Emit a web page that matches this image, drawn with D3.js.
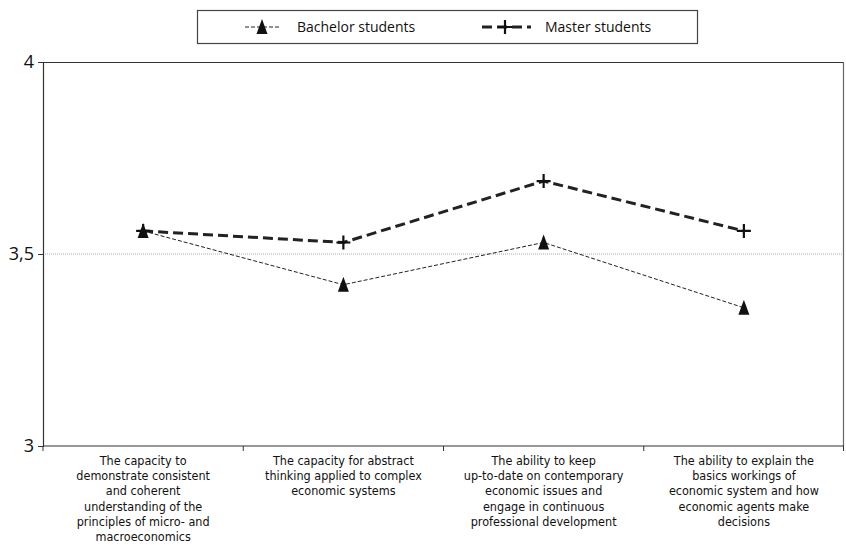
<!DOCTYPE html>
<html>
<head>
<meta charset="utf-8">
<script src="https://cdn.jsdelivr.net/npm/d3@7"></script>
<style>
  body { margin: 0; background: #fff; }
  svg { display: block; }
</style>
</head>
<body>
<svg id="chart"></svg>
<script>
// categories (x axis), each label already split into lines
var categories = [
  ["The capacity to", "demonstrate consistent", "and coherent", "understanding of the", "principles of micro- and", "macroeconomics"],
  ["The capacity for abstract", "thinking applied to complex", "economic systems"],
  ["The ability to keep", "up-to-date on contemporary", "economic issues and", "engage in continuous", "professional development"],
  ["The ability to explain the", "basics workings of", "economic system and how", "economic agents make", "decisions"]
];
var bachelorValues = [3.56, 3.42, 3.53, 3.36];
var masterValues = [3.56, 3.53, 3.69, 3.56];
var yTicks = [3, 3.5, 4];
var yTickLabels = ["3", "3,5", "4"];

var svgWidth = 846, svgHeight = 545;
var margin = { top: 62, right: 2, bottom: 99, left: 43 };
var width = svgWidth - margin.left - margin.right;
var height = svgHeight - margin.top - margin.bottom;
var font = "'DejaVu Sans Condensed', 'Open Sans', sans-serif";

var svg = d3.select("#chart")
  .attr("width", svgWidth)
  .attr("height", svgHeight);

var g = svg.append("g")
  .attr("transform", "translate(" + margin.left + "," + margin.top + ")");

var x = d3.scaleBand().domain(d3.range(categories.length)).range([0, width]);
var y = d3.scaleLinear().domain([3, 4]).range([height, 0]);

// dotted grid line at 3,5
g.append("line")
  .attr("x1", 0).attr("x2", width)
  .attr("y1", y(3.5)).attr("y2", y(3.5))
  .attr("stroke", "#aaa")
  .attr("stroke-width", 1)
  .attr("stroke-dasharray", "1,1");

// frame top and right
g.append("line").attr("x1", 0).attr("x2", width).attr("y1", 0.5).attr("y2", 0.5)
  .attr("stroke", "#333").attr("stroke-width", 1.2);
g.append("line").attr("x1", width - 0.5).attr("x2", width - 0.5).attr("y1", 0).attr("y2", height)
  .attr("stroke", "#666").attr("stroke-width", 1.2);

// Y axis
var yAxis = g.append("g")
  .call(d3.axisLeft(y).tickValues(yTicks).tickSize(5).tickFormat(function(d, i) { return yTickLabels[i]; }));
yAxis.select(".domain").attr("stroke", "#333").attr("stroke-width", 1.2);
yAxis.selectAll("line").attr("stroke", "#333");
yAxis.selectAll("text")
  .attr("fill", "#111")
  .style("font-family", "'Open Sans', sans-serif")
  .style("font-size", "18px")
  .attr("x", -9);

// X axis: ticks between categories
var xAxis = g.append("g").attr("transform", "translate(0," + height + ")");
xAxis.append("line").attr("x1", 0).attr("x2", width).attr("y1", 0).attr("y2", 0)
  .attr("stroke", "#333").attr("stroke-width", 1.2);
xAxis.selectAll(".xtick")
  .data(d3.range(categories.length + 1))
  .enter().append("line")
  .attr("x1", function(d) { return d === categories.length ? width - 0.5 : x(d); })
  .attr("x2", function(d) { return d === categories.length ? width - 0.5 : x(d); })
  .attr("y1", 0).attr("y2", 5)
  .attr("stroke", "#333");

var labels = xAxis.selectAll(".xlabel")
  .data(categories)
  .enter().append("text")
  .attr("text-anchor", "middle")
  .attr("fill", "#111")
  .style("font-family", font)
  .style("font-size", "12.5px")
  .attr("transform", function(d, i) { return "translate(" + (x(i) + x.bandwidth() / 2) + ",19)"; });
labels.selectAll("tspan")
  .data(function(d) { return d; })
  .enter().append("tspan")
  .attr("x", 0)
  .attr("y", function(d, i) { return i * 15.2; })
  .text(function(d) { return d; });

var line = d3.line()
  .x(function(d, i) { return x(i) + x.bandwidth() / 2; })
  .y(function(d) { return y(d); });

// Bachelor line
g.append("path")
  .datum(bachelorValues)
  .attr("fill", "none")
  .attr("stroke", "#222")
  .attr("stroke-width", 1)
  .attr("stroke-dasharray", "4,2")
  .attr("d", line);

// Master line
g.append("path")
  .datum(masterValues)
  .attr("fill", "none")
  .attr("stroke", "#222")
  .attr("stroke-width", 3)
  .attr("stroke-dasharray", "10,5")
  .attr("d", line);

var triangle = "M0,-8L5.5,7L-5.5,7Z";
var cross = "M-7,0H7M0,-7V7";

g.selectAll(".tri")
  .data(bachelorValues)
  .enter().append("path")
  .attr("d", triangle)
  .attr("fill", "#111")
  .attr("transform", function(d, i) { return "translate(" + (x(i) + x.bandwidth() / 2) + "," + y(d) + ")"; });

g.selectAll(".crs")
  .data(masterValues)
  .enter().append("path")
  .attr("d", cross)
  .attr("stroke", "#111")
  .attr("stroke-width", 2.2)
  .attr("fill", "none")
  .attr("transform", function(d, i) { return "translate(" + (x(i) + x.bandwidth() / 2) + "," + y(d) + ")"; });

// Legend
var legend = svg.append("g");
legend.append("rect")
  .attr("x", 197.5).attr("y", 10.5).attr("width", 500).attr("height", 33)
  .attr("fill", "#fff").attr("stroke", "#444").attr("stroke-width", 1.2);

legend.append("line")
  .attr("x1", 245).attr("x2", 280).attr("y1", 27).attr("y2", 27)
  .attr("stroke", "#222").attr("stroke-width", 1).attr("stroke-dasharray", "4,2");
legend.append("path")
  .attr("d", triangle)
  .attr("fill", "#111")
  .attr("transform", "translate(262,27)");
legend.append("text")
  .attr("x", 297).attr("y", 32)
  .style("font-family", "'Open Sans', sans-serif")
  .style("font-size", "14px")
  .attr("fill", "#111")
  .text("Bachelor students");

legend.append("line")
  .attr("x1", 482).attr("x2", 531).attr("y1", 27).attr("y2", 27)
  .attr("stroke", "#222").attr("stroke-width", 3).attr("stroke-dasharray", "10,5");
legend.append("path")
  .attr("d", cross)
  .attr("stroke", "#111").attr("stroke-width", 2.2).attr("fill", "none")
  .attr("transform", "translate(505,27)");
legend.append("text")
  .attr("x", 545).attr("y", 32)
  .style("font-family", "'Open Sans', sans-serif")
  .style("font-size", "14px")
  .attr("fill", "#111")
  .text("Master students");
</script>
</body>
</html>
